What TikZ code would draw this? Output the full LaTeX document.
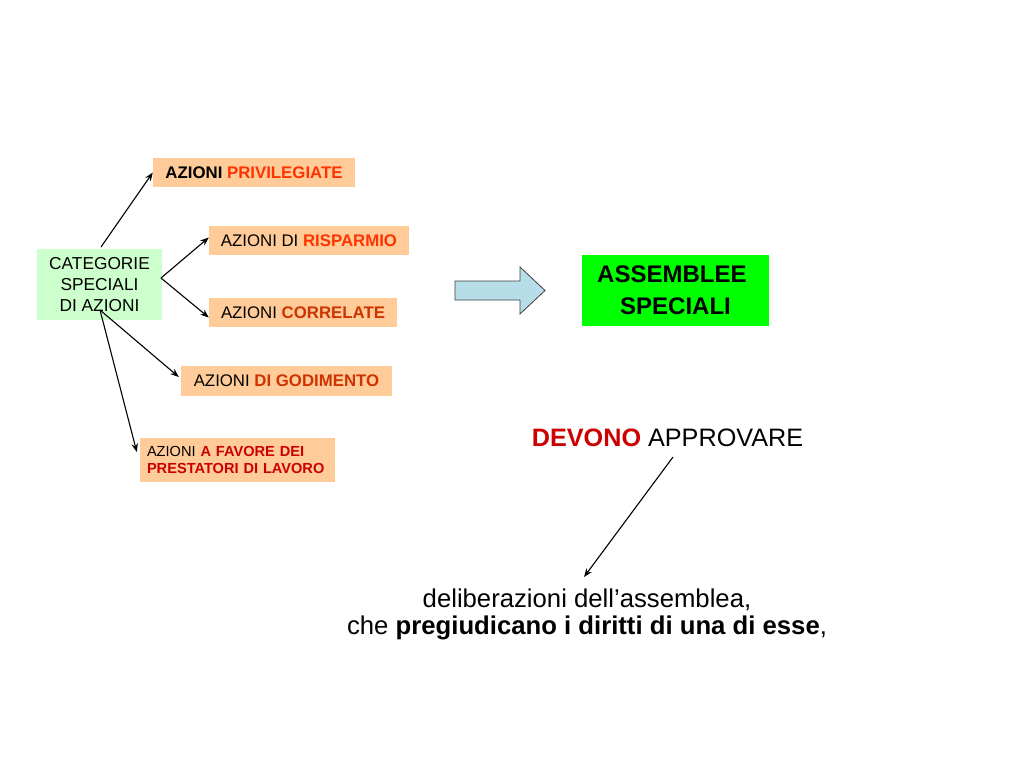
\documentclass[tikz,border=0pt]{standalone}
\usepackage{fontspec}
\setmainfont{Liberation Sans}
\usetikzlibrary{arrows.meta}
\definecolor{peach}{HTML}{FFCC99}
\definecolor{lgreen}{HTML}{CCFFCC}
\definecolor{bgreen}{HTML}{00FF00}
\definecolor{redA}{HTML}{FF3300}
\definecolor{redB}{HTML}{CC3300}
\definecolor{redC}{HTML}{CC0000}
\definecolor{arrblue}{HTML}{B7DDE8}
\tikzset{
  peachbox/.style={fill=peach, inner sep=0pt, minimum height=29pt, font=\fontsize{16.8}{19}\selectfont},
  conn/.style={-{Stealth[length=8.5pt,width=6.5pt]}, line width=1.1pt, black},
}
\begin{document}
\begin{tikzpicture}[x=1pt,y=-1pt]
\path[use as bounding box, fill=white] (0,0) rectangle (1024,768);

\node[fill=lgreen, minimum width=125pt, minimum height=71pt, inner sep=0pt, align=center,
      font=\fontsize{17.3}{21}\selectfont] (cat) at (99.5,284.5) {CATEGORIE\\SPECIALI\\DI AZIONI};

\node[peachbox, minimum width=202pt] (priv) at (254,172.5) {\textbf{AZIONI} \textcolor{redA}{\textbf{PRIVILEGIATE}}};
\node[peachbox, minimum width=200pt] (risp) at (309,240.5) {AZIONI DI \textcolor{redA}{\textbf{RISPARMIO}}};
\node[peachbox, minimum width=188pt] (corr) at (303,312.5) {AZIONI \textcolor{redB}{\textbf{CORRELATE}}};
\node[peachbox, minimum width=211pt, minimum height=30pt] (god) at (286.5,381) {AZIONI \textcolor{redB}{\textbf{DI GODIMENTO}}};
\node[fill=peach, text width=181pt, minimum height=44pt, inner xsep=7pt, inner ysep=0pt, align=left,
      font=\fontsize{14.6}{17}\selectfont] (fav) at (237.5,460)
      {AZIONI \textcolor{redC}{\textbf{A FAVORE DEI}}\\\textcolor{redC}{\textbf{PRESTATORI DI LAVORO}}};

\coordinate (cattop) at (101,247);
\coordinate (catright) at (161,278);
\coordinate (catlow) at (100,310);

\draw[conn] (cattop) -- (priv.west);
\draw[conn] (catright) -- ([yshift=3pt]risp.west);
\draw[conn] (catright) -- ([yshift=-5pt]risp.west |- corr.west);
\draw[conn] (catlow) -- ([xshift=-2pt,yshift=4pt]god.west);
\draw[conn] (catlow) -- ([xshift=-3pt,yshift=8pt]fav.west);

% block arrow
\draw[fill=arrblue, draw=black!75, line width=0.8pt]
  (455,281) -- (520,281) -- (520,267) -- (545,290.5) -- (520,314) -- (520,300) -- (455,300) -- cycle;

\node[fill=bgreen, minimum width=187pt, minimum height=71pt, inner sep=0pt, align=center,
      font=\fontsize{24}{32}\selectfont\bfseries] (ass) at (675.5,290.5) {ASSEMBLEE\hspace*{0.3em}\\SPECIALI};

\node[inner sep=1pt, font=\fontsize{25.2}{28}\selectfont] (dev) at (667.5,437.5)
  {\textcolor{redC}{\textbf{DEVONO}} APPROVARE};

\node[inner sep=1pt, align=center, font=\fontsize{25.7}{27}\selectfont] (delib) at (587,614)
  {deliberazioni dell’assemblea,\\che \textbf{pregiudicano i diritti di una di esse},};

\draw[conn] (673,457) -- (584,577);
\end{tikzpicture}
\end{document}
